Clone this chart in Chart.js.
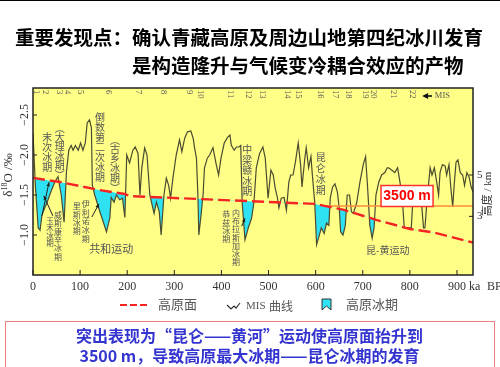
<!DOCTYPE html>
<html>
<head>
<meta charset="utf-8">
<script src="https://cdn.jsdelivr.net/npm/chart.js@4.4.0/dist/chart.umd.min.js"></script>
<style>
html, body { margin: 0; padding: 0; background: #fff; }
#page { position: relative; width: 500px; height: 367px; overflow: hidden; }
#chart { position: absolute; left: 0; top: 0; }
#topline { position: absolute; left: 0; top: 0; width: 500px; height: 1px; background: #000; }
.t { position: absolute; font-family: "Noto Sans CJK SC"; font-weight: bold; font-size: 19.5px; line-height: 20px; color: #000; white-space: nowrap; }
#t1 { left: 15px; top: 27px; }
#t2 { left: 132px; top: 55px; }
#foot { position: absolute; left: 5px; top: 321px; width: 490px; height: 60px; border: 1.5px solid #f08080; box-sizing: border-box; }
.f { position: absolute; left: 0; width: 487px; text-align: center; font-family: "Noto Sans CJK SC"; font-weight: bold; font-size: 16px; line-height: 18px; color: #3434d0; white-space: nowrap; }
#f1 { top: 4px; }
#f2 { top: 24px; }
</style>
</head>
<body>
<div id="page">
  <canvas id="chart" width="500" height="367"></canvas>
  <div id="topline"></div>
  <div class="t" id="t1">重要发现点：确认青藏高原及周边山地第四纪冰川发育</div>
  <div class="t" id="t2">是构造隆升与气候变冷耦合效应的产物</div>
  <div id="foot">
    <div class="f" id="f1">突出表现为“昆仑——黄河”运动使高原面抬升到</div>
    <div class="f" id="f2">3500 m，导致高原最大冰期——昆仑冰期的发育</div>
  </div>
</div>
<script>
// MIS δ18O curve (ka BP, ‰)
const misAge = [0, 5, 11, 15, 19, 25, 30, 38, 46, 53, 60, 66, 71, 76, 81, 85, 90, 96, 101, 106,
  111, 115, 120, 124, 126, 131, 142, 156, 163, 166, 172, 177, 184, 190, 195, 199, 205, 212, 217, 223,
  227, 231, 237, 242, 248, 257, 262, 268, 272, 278, 283, 288, 292, 297, 304, 311, 316, 322, 328, 335,
  340, 343, 347, 350, 352, 356, 361, 364, 370, 375, 382, 389, 394, 399, 406, 413, 418, 421, 427, 432,
  437, 441, 444, 450, 457, 464, 469, 474, 481, 488, 493, 499, 505, 510, 514, 519, 522, 527, 533, 538,
  543, 547, 552, 557, 563, 568, 571, 577, 580, 585, 590, 593, 598, 602, 607, 612, 618, 623, 628, 631,
  636, 641, 646, 650, 653, 658, 663, 667, 672, 676, 680, 687, 694, 701, 706, 710, 715, 720, 724, 728,
  734, 740, 747, 752, 755, 762, 768, 774, 779, 784, 788, 796, 803, 806, 812, 818, 824, 829, 832, 836,
  843, 847, 852, 857, 861, 864, 869, 875, 878, 883, 887, 891, 894, 898, 902, 907, 912, 916, 921, 926,
  930, 934];
const misD18O = [-2.27, -1.62, -1.09, -1.06, -1.25, -1.34, -1.41, -1.54, -1.66, -1.73, -1.5, -1.16, -1.79, -2.06, -2.12, -2.06, -2.12, -2.06, -2.15, -2.06,
  -2.15, -2.4, -2.44, -2.34, -1.62, -1.5, -1.29, -1.04, -1.21, -1.47, -1.41, -1.5, -1.44, -1.46, -1.22, -2.0, -1.9, -2.06, -2.1, -2.02,
  -1.5, -1.84, -2.09, -2.0, -1.5, -1.27, -1.41, -1.29, -1.0, -1.5, -1.71, -1.62, -1.46, -1.71, -2.0, -2.19, -2.04, -2.21, -2.29, -2.3,
  -2.21, -2.09, -1.96, -1.5, -1.0, -1.21, -1.5, -1.84, -1.96, -2.0, -2.09, -1.88, -1.75, -1.96, -2.15, -2.22, -2.25, -2.12, -2.06, -2.1,
  -2.1, -2.12, -1.41, -0.94, -1.09, -1.21, -1.41, -1.84, -2.02, -2.1, -1.96, -1.46, -1.81, -1.75, -1.59, -1.46, -1.34, -1.46, -1.47, -1.31,
  -1.66, -1.75, -1.75, -1.91, -2.15, -1.88, -1.6, -1.96, -2.09, -1.84, -1.98, -1.75, -1.41, -0.88, -0.98, -1.09, -1.02, -1.15, -1.12, -1.46,
  -1.6, -1.64, -1.54, -1.34, -1.04, -1.0, -1.12, -1.5, -1.5, -1.29, -1.27, -1.4, -1.66, -1.88, -1.98, -1.62, -1.12, -0.96, -1.09, -1.5,
  -1.66, -1.75, -1.78, -1.84, -1.84, -1.81, -1.78, -1.84, -1.66, -1.45, -1.09, -1.09, -1.09, -1.4, -1.55, -1.5, -1.45, -1.09, -1.09, -1.4,
  -1.84, -1.75, -1.84, -1.66, -1.5, -1.78, -1.88, -1.86, -1.75, -1.88, -1.59, -1.35, -1.62, -1.91, -1.94, -1.78, -1.75, -1.62, -1.78, -1.72,
  -1.6, -1.54];

// plateau surface altitude (km)
const plateauAge = [0, 57, 142, 195, 205, 600, 660, 730, 800, 850, 934];
const plateauKm = [4.86, 4.66, 4.27, 4.08, 3.98, 3.6, 3.31, 2.82, 2.39, 2.22, 1.73];

// 3500 m level
const levelAge = [620, 934];
const levelKm = [3.5, 3.5];

// axes
const xTicks = [0, 100, 200, 300, 400, 500, 600, 700, 800, 900];
const yTicks = [-2.5, -2.0, -1.5, -1.0];
const yTickLabels = ['−2.5', '−2.0', '−1.5', '−1.0'];
const y2Ticks = [5, 3];

// MIS stage numbers along the top
const misStages = ['1', '2', '3', '4', '5', '6', '7', '8', '9', '10', '11', '12', '13', '14', '15', '16', '17', '18', '19', '20', '21', '22'];
const misStageAge = [6, 25, 55, 72, 100, 159, 223, 276, 331, 355, 418, 456, 486, 539, 562, 609, 641, 669, 705, 722, 764, 806];

const YELLOW = '#ffff88';
const CYAN = '#2fe2f2';
const RED = '#f52424';
const CURVE = '#4b4b30';
const SERIF = '"Liberation Serif", "Noto Sans CJK SC"';
const CJK = '"Noto Sans CJK SC"';

// vertical annotation columns, anchored in data units (ka, δ18O)
const vNotes = [
    { text: '末次冰期', ka: 30, d: -2.225, step: 10, size: 10 },
    { text: '︵大理冰期︶', ka: 57, d: -2.34, step: 9.4, size: 10 },
    { text: '倒数第二次冰期', ka: 142, d: -2.475, step: 10, size: 10 },
    { text: '︵古乡冰期︶', ka: 174, d: -2.19, step: 9.6, size: 10 },
    { text: '中梁赣冰期', ka: 455, d: -2.07, step: 10.5, size: 10 },
    { text: '昆仑冰期', ka: 611, d: -1.975, step: 11, size: 10 },
    { text: '玉木冰期', ka: 36, d: -1.175, step: 7.5, size: 7.5 },
    { text: '威斯康辛冰期', ka: 53, d: -1.25, step: 8.3, size: 8 },
    { text: '里斯冰期', ka: 93, d: -1.36, step: 8.3, size: 8 },
    { text: '伊利诺冰期', ka: 112, d: -1.39, step: 8.7, size: 8 },
    { text: '恭兹冰期', ka: 410, d: -1.26, step: 8.3, size: 8 },
    { text: '内布拉斯加冰期', ka: 431, d: -1.275, step: 8.2, size: 8 }
];
const hNotes = [
    { text: '共和运动', ka: 166, d: -0.825, size: 11 },
    { text: '昆-黄运动', ka: 753, d: -0.81, size: 10 }
];
// small pointer arrows: from (ka, d) to (ka, d)
const arrows = [
    { x0: 19, d0: -1.24, x1: 34, d1: -1.66 },
    { x0: 42, d0: -1.24, x1: 23, d1: -1.49 },
    { x0: 125, d0: -1.225, x1: 140, d1: -1.39 },
    { x0: 443, d0: -1.11, x1: 450, d1: -1.21 }
];

function arrowHead(c, x0, y0, x1, y1, len, wid) {
    const a = Math.atan2(y1 - y0, x1 - x0);
    c.beginPath();
    c.moveTo(x1, y1);
    c.lineTo(x1 - len * Math.cos(a) + wid * Math.sin(a), y1 - len * Math.sin(a) - wid * Math.cos(a));
    c.lineTo(x1 - len * Math.cos(a) - wid * Math.sin(a), y1 - len * Math.sin(a) + wid * Math.cos(a));
    c.closePath();
    c.fill();
}

const decorPlugin = {
    id: 'decor',
    beforeDraw(chart) {
        const { ctx: c, chartArea: a } = chart;
        c.save();
        c.fillStyle = YELLOW;
        c.fillRect(a.left, a.top, a.right - a.left, a.bottom - a.top);
        c.restore();
    },
    afterDatasetsDraw(chart) {
        const { ctx: c, chartArea: a, scales } = chart;
        const px = v => scales.x.getPixelForValue(v);
        const py = v => scales.y.getPixelForValue(v);
        const py2 = v => scales.y2.getPixelForValue(v);
        c.save();

        // annotations
        c.fillStyle = '#555';
        c.textAlign = 'center';
        c.textBaseline = 'middle';
        vNotes.forEach(n => {
            c.font = `${n.size}px ${CJK}`;
            [...n.text].forEach((ch, i) => c.fillText(ch, px(n.ka), py(n.d) + i * n.step));
        });
        hNotes.forEach(n => {
            c.font = `${n.size}px ${CJK}`;
            c.fillText(n.text, px(n.ka), py(n.d));
        });
        c.strokeStyle = '#222';
        c.fillStyle = '#222';
        c.lineWidth = 1;
        arrows.forEach(r => {
            const x0 = px(r.x0), y0 = py(r.d0), x1 = px(r.x1), y1 = py(r.d1);
            c.beginPath();
            c.moveTo(x0, y0);
            c.lineTo(x1, y1);
            c.stroke();
            arrowHead(c, x0, y0, x1, y1, 4, 1.8);
        });

        // 3500 m box
        const bx = px(794), by = py(-1.4875);
        c.fillStyle = '#fff';
        c.fillRect(bx - 26, by - 10.5, 52, 21);
        c.strokeStyle = '#ff3030';
        c.lineWidth = 1.5;
        c.strokeRect(bx - 26, by - 10.5, 52, 21);
        c.fillStyle = '#ff0000';
        c.font = 'bold 14px "Liberation Sans"';
        c.fillText('3500 m', bx, by + 0.5);

        // frame
        c.strokeStyle = '#222';
        c.lineWidth = 1.5;
        c.strokeRect(a.left, a.top, a.right - a.left, a.bottom - a.top);

        // bottom axis
        c.lineWidth = 1;
        c.fillStyle = '#333';
        c.font = `12px ${SERIF}`;
        xTicks.forEach(v => {
            c.beginPath();
            c.moveTo(px(v), a.bottom);
            c.lineTo(px(v), a.bottom - 5);
            c.stroke();
            c.fillText(String(v), px(v), a.bottom + 12);
        });
        c.textAlign = 'left';
        c.fillText('ka', a.right - 4, a.bottom + 12);
        c.fillText('BP', a.right + 14, a.bottom + 12);

        // left axis
        yTicks.forEach((v, i) => {
            c.beginPath();
            c.moveTo(a.left, py(v));
            c.lineTo(a.left + 4, py(v));
            c.stroke();
            c.save();
            c.translate(a.left - 8, py(v));
            c.rotate(-Math.PI / 2);
            c.textAlign = 'center';
            c.fillText(yTickLabels[i], 0, 0);
            c.restore();
        });
        c.save();
        c.translate(9, 175);
        c.rotate(-Math.PI / 2);
        c.textAlign = 'left';
        c.font = `13px ${SERIF}`;
        const w1 = c.measureText('δ').width, w3 = c.measureText('O /‰').width;
        c.font = `8px ${SERIF}`;
        const w2 = c.measureText('18').width;
        let sx = -(w1 + w2 + w3) / 2;
        c.font = `13px ${SERIF}`;
        c.fillText('δ', sx, 0);
        c.font = `8px ${SERIF}`;
        c.fillText('18', sx + w1, -4);
        c.font = `13px ${SERIF}`;
        c.fillText('O /‰', sx + w1 + w2, 0);
        c.restore();

        // right axis
        c.font = `11px ${SERIF}`;
        c.textAlign = 'left';
        y2Ticks.forEach(v => {
            c.beginPath();
            c.moveTo(a.right, py2(v));
            c.lineTo(a.right - 4, py2(v));
            c.stroke();
            c.fillText(String(v), a.right + 4, py2(v));
        });
        c.save();
        c.translate(488, 194);
        c.rotate(-Math.PI / 2);
        c.textAlign = 'center';
        c.font = `11px ${SERIF}`;
        c.fillText('高度 / km', 0, 0);
        c.restore();

        // MIS numbers
        c.font = `8.5px ${SERIF}`;
        c.fillStyle = '#555';
        misStages.forEach((s, i) => {
            c.save();
            c.translate(px(misStageAge[i]), a.top + 2);
            c.rotate(Math.PI / 2);
            c.textAlign = 'left';
            c.fillText(s, 0, 0);
            c.restore();
        });
        c.strokeStyle = '#111';
        c.fillStyle = '#111';
        c.lineWidth = 1.6;
        const ay = a.top + 8;
        c.beginPath();
        c.moveTo(px(847), ay);
        c.lineTo(px(826) + 4, ay);
        c.stroke();
        arrowHead(c, px(847), ay, px(826), ay, 6, 3);
        c.fillStyle = '#555';
        c.textAlign = 'left';
        c.fillText('MIS', px(853), ay);

        // legend
        const ly = a.bottom + 29;
        c.strokeStyle = RED;
        c.lineWidth = 2;
        c.setLineDash([7, 3]);
        c.beginPath();
        c.moveTo(120, ly + 1);
        c.lineTo(149, ly + 1);
        c.stroke();
        c.setLineDash([]);
        c.fillStyle = '#555';
        c.font = `13px ${CJK}`;
        c.fillText('高原面', 158, ly);
        c.strokeStyle = '#333';
        c.lineWidth = 1.2;
        c.beginPath();
        c.moveTo(227, ly + 1);
        c.lineTo(231, ly + 5);
        c.lineTo(234, ly + 2);
        c.lineTo(236, ly + 4);
        c.lineTo(240, ly - 1);
        c.stroke();
        c.font = `11px ${SERIF}`;
        c.fillText('MIS', 246, ly + 2);
        c.font = `12px ${CJK}`;
        c.fillText('曲线', 269, ly + 2);
        c.fillStyle = CYAN;
        c.strokeStyle = '#333';
        c.lineWidth = 1;
        c.beginPath();
        c.moveTo(322, ly - 5);
        c.lineTo(331, ly - 5);
        c.lineTo(331, ly + 6);
        c.lineTo(326.5, ly + 2);
        c.lineTo(322, ly + 6);
        c.closePath();
        c.fill();
        c.stroke();
        c.fillStyle = '#555';
        c.font = `13px ${CJK}`;
        c.fillText('高原冰期', 346, ly);

        c.restore();
    }
};

new Chart(document.getElementById('chart'), {
    type: 'line',
    data: {
        datasets: [{
            label: 'MIS 曲线',
            data: misAge.map((a, i) => ({ x: a, y: misD18O[i] })),
            yAxisID: 'y',
            borderColor: CURVE,
            borderWidth: 1.2,
            pointRadius: 0,
            fill: { target: '+1', above: 'rgba(0,0,0,0)', below: CYAN },
            order: 2
        }, {
            label: '高原面',
            data: plateauAge.map((a, i) => ({ x: a, y: plateauKm[i] })),
            yAxisID: 'y2',
            borderColor: RED,
            borderWidth: 2.4,
            borderDash: [12, 5],
            pointRadius: 0,
            fill: false,
            order: 0
        }, {
            label: '3500 m',
            data: levelAge.map((a, i) => ({ x: a, y: levelKm[i] })),
            yAxisID: 'y2',
            borderColor: '#ff8a3a',
            borderWidth: 1.6,
            pointRadius: 0,
            fill: false,
            order: 1
        }]
    },
    options: {
        responsive: false,
        animation: false,
        devicePixelRatio: 1,
        layout: { padding: { left: 33, top: 88, right: 27, bottom: 92 } },
        elements: { line: { tension: 0 }, point: { radius: 0 } },
        scales: {
            x: { type: 'linear', min: 0, max: 934, display: false },
            y: { type: 'linear', min: -2.8375, max: -0.5, reverse: true, display: false },
            y2: { type: 'linear', position: 'right', min: 0.162, max: 9.21, display: false }
        },
        plugins: {
            legend: { display: false },
            tooltip: { enabled: false }
        }
    },
    plugins: [decorPlugin]
});
</script>
</body>
</html>
